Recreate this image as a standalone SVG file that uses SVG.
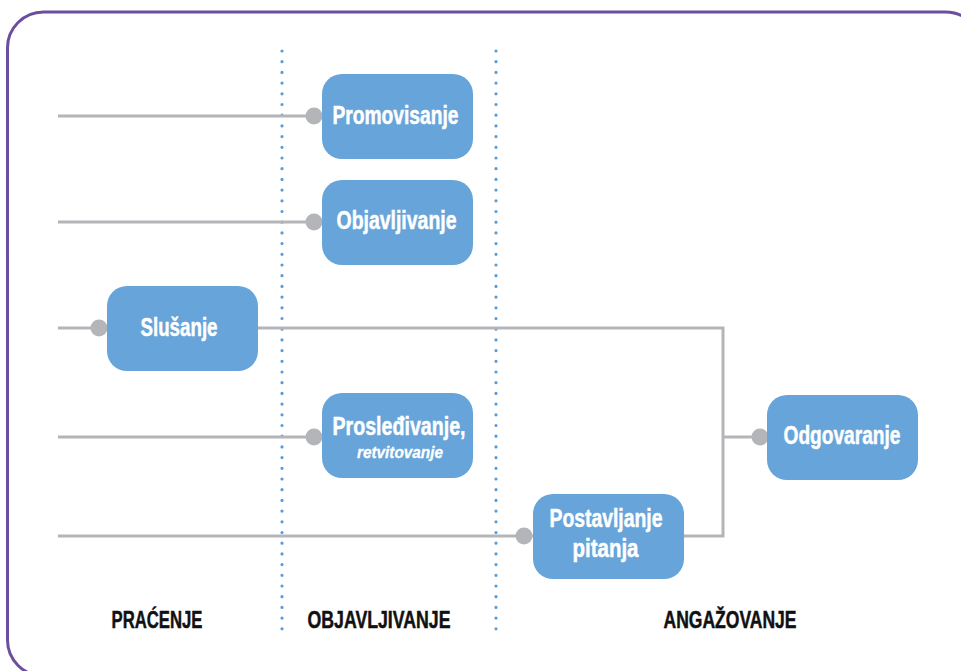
<svg xmlns="http://www.w3.org/2000/svg" width="961" height="671" viewBox="0 0 961 671">
<style>
.node{fill:#66a4d9;}
.t{font-family:"Liberation Sans",Arial,sans-serif;font-weight:bold;font-size:25px;fill:#ffffff;stroke:#ffffff;stroke-width:0.5;}
.ti{font-family:"Liberation Sans",Arial,sans-serif;font-weight:bold;font-style:italic;font-size:17px;fill:#ffffff;stroke:#ffffff;stroke-width:0.3;}
.lbl{font-family:"Liberation Sans",Arial,sans-serif;font-weight:bold;font-size:24.5px;fill:#111111;stroke:#111111;stroke-width:0.5;}
.conn{fill:none;stroke:#b3b5b8;stroke-width:3;}
.dot{fill:#b3b5b8;}
.sep{stroke:#5b9bd5;stroke-width:3.2;stroke-linecap:round;stroke-dasharray:0 10.7;}
</style>
<rect x="7.5" y="12" width="974" height="664" rx="36" ry="36" fill="#ffffff" stroke="#6b4f9c" stroke-width="3"/>
<g id="separators">
<line class="sep" x1="282" y1="51" x2="282" y2="638"/>
<line class="sep" x1="496" y1="51" x2="496" y2="638"/>
</g>
<g id="connectors">
<line class="conn" x1="58" y1="116" x2="322" y2="116"/>
<circle class="dot" cx="314" cy="116" r="8.5"/>
<line class="conn" x1="58" y1="222" x2="322" y2="222"/>
<circle class="dot" cx="314" cy="222" r="8.5"/>
<line class="conn" x1="58" y1="328" x2="107" y2="328"/>
<circle class="dot" cx="99" cy="328" r="8.5"/>
<polyline class="conn" points="258,328 723,328 723,536 684,536"/>
<line class="conn" x1="58" y1="437" x2="322" y2="437"/>
<circle class="dot" cx="314" cy="437" r="8.5"/>
<line class="conn" x1="58" y1="536" x2="533" y2="536"/>
<circle class="dot" cx="524" cy="536" r="8.5"/>
<line class="conn" x1="723" y1="437" x2="767" y2="437"/>
<circle class="dot" cx="760" cy="437" r="8.5"/>
</g>
<g id="promovisanje">
<rect class="node" x="322" y="74" width="151" height="85" rx="20"/>
<text class="t" x="332.5" y="124" textLength="126" lengthAdjust="spacingAndGlyphs">Promovisanje</text>
</g>
<g id="objavljivanje">
<rect class="node" x="322" y="180" width="151" height="85" rx="20"/>
<text class="t" x="336.5" y="229" textLength="120" lengthAdjust="spacingAndGlyphs">Objavljivanje</text>
</g>
<g id="slusanje">
<rect class="node" x="107" y="286" width="151" height="85" rx="20"/>
<text class="t" x="140.5" y="335.5" textLength="77" lengthAdjust="spacingAndGlyphs">Slušanje</text>
</g>
<g id="prosledjivanje">
<rect class="node" x="322" y="393" width="151" height="85" rx="20"/>
<text class="t" x="332.5" y="435" textLength="133" lengthAdjust="spacingAndGlyphs">Prosleđivanje,</text>
<text class="ti" x="357" y="458" textLength="86" lengthAdjust="spacingAndGlyphs">retvitovanje</text>
</g>
<g id="odgovaranje">
<rect class="node" x="767" y="395" width="151" height="85" rx="20"/>
<text class="t" x="783.5" y="444" textLength="117" lengthAdjust="spacingAndGlyphs">Odgovaranje</text>
</g>
<g id="postavljanje">
<rect class="node" x="533" y="494" width="151" height="85" rx="20"/>
<text class="t" x="549.5" y="527" textLength="113" lengthAdjust="spacingAndGlyphs">Postavljanje</text>
<text class="t" x="572.5" y="556.5" textLength="66" lengthAdjust="spacingAndGlyphs">pitanja</text>
</g>
<g id="labels">
<text class="lbl" x="111.5" y="628" textLength="91" lengthAdjust="spacingAndGlyphs">PRAĆENJE</text>
<text class="lbl" x="307.5" y="628" textLength="143" lengthAdjust="spacingAndGlyphs">OBJAVLJIVANJE</text>
<text class="lbl" x="663.5" y="628" textLength="133" lengthAdjust="spacingAndGlyphs">ANGAŽOVANJE</text>
</g>
</svg>
